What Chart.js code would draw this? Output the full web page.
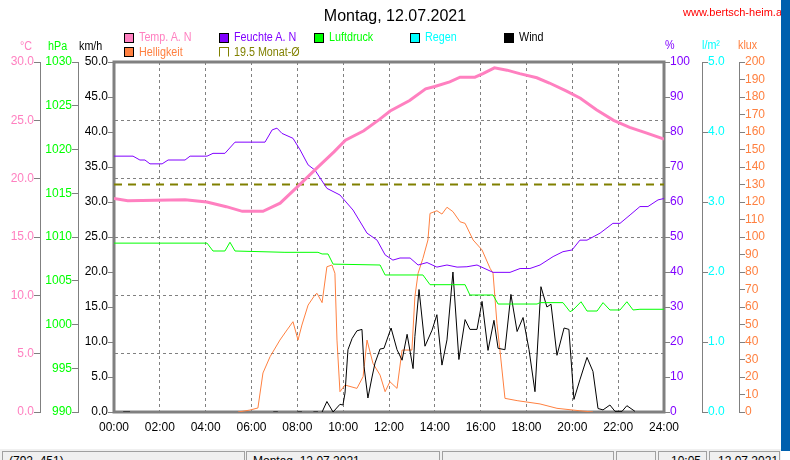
<!DOCTYPE html>
<html lang="de">
<head>
<meta charset="UTF-8">
<title>Montag, 12.07.2021</title>
<script src="https://cdn.jsdelivr.net/npm/chart.js"></script>
<style>
  body { margin:0; width:790px; height:460px; overflow:hidden; background:#fff; position:relative;
         font-family:"Liberation Sans", Arial, sans-serif; }
  #chart { position:absolute; left:0; top:0; }
  .abs { position:absolute; white-space:nowrap; }
  .n { font-size:12.5px; line-height:13px; }
  .n span { display:inline-block; transform:scaleX(0.86); transform-origin:left center; }
  #title { left:0; width:790px; text-align:center; top:8px; font-size:16px; line-height:16px; }
  #web { left:683px; top:7px; font-size:11px; line-height:11px; color:#ff0000; }
  .leg { display:flex; align-items:center; }
  .leg i { display:inline-block; width:10px; height:10px; border:1px solid #000; box-sizing:border-box; margin-right:5px; }
  #bluebar { left:781px; top:0; width:9px; height:451px; background:#0060ae; }
  #status { left:0; top:449px; width:781px; height:11px; background:#f0f0f0; }
  .panel { top:451px; height:20px; box-sizing:border-box; border:1px solid #a0a0a0; background:#f0f0f0;
           font-size:12px; line-height:18px; padding-left:6px; overflow:hidden; }
</style>
</head>
<body>
<canvas id="chart" width="790" height="460"></canvas>
<div id="title" class="abs">Montag, 12.07.2021</div>
<div id="web" class="abs">www.bertsch-heim.at</div>
<div id="legend"></div>
<div id="units"></div>
<div id="bluebar" class="abs"></div>
<div id="status" class="abs"></div>
<div class="abs panel" style="left:2px;width:243px">(792, 451)</div>
<div class="abs panel" style="left:246px;width:194px">Montag, 12.07.2021</div>
<div class="abs panel" style="left:442px;width:172px"></div>
<div class="abs panel" style="left:616px;width:40px"></div>
<div class="abs panel" style="left:658px;width:49px;padding-left:12px">10:05</div>
<div class="abs panel" style="left:709px;width:71px;padding-left:8px">12.07.2021</div>

<script>
// Temperatur (°C)
const tempHours  = [0, 0.6, 3.1, 4.05, 4.9, 5.6, 6.5, 7.25, 8.0, 8.85, 9.6, 10.1, 10.9, 11.6, 12.05, 12.9, 13.6, 14.0,
                    14.65, 15.1, 15.75, 16.1, 16.6, 17.15, 17.7, 18.45, 19.0, 19.75, 20.35, 21.05, 21.8, 22.5, 23.25, 24];
const tempValues = [18.3, 18.1, 18.2, 18.0, 17.6, 17.2, 17.2, 17.9, 19.3, 20.9, 22.3, 23.3, 24.1, 25.1, 25.8, 26.7, 27.7, 27.9,
                    28.3, 28.7, 28.7, 29.0, 29.5, 29.3, 29.0, 28.65, 28.2, 27.5, 26.9, 25.9, 25.0, 24.4, 23.9, 23.4];

// Feuchte (%)
const humHours  = [0, 0.83, 1.13, 1.35, 1.57, 2.1, 2.36, 3.1, 3.32, 4.06, 4.32, 4.84, 5.28, 6.59, 6.9, 7.11, 7.33, 7.81,
                   8.12, 8.47, 8.77, 9.29, 9.86, 10.43, 11.04, 11.48, 11.83, 12.17, 12.48, 12.92, 13.27, 13.66, 14.09,
                   14.53, 14.97, 15.4, 15.84, 16.54, 17.28, 17.72, 18.15, 18.59, 19.16, 19.59, 19.99, 20.33, 20.64,
                   21.21, 21.77, 22.08, 22.52, 22.95, 23.3, 23.74, 24];
const humValues = [73.1, 73.1, 72, 72, 70.9, 70.9, 72, 72, 73.1, 73.1, 73.9, 73.9, 77.1, 77.1, 80.6, 81.1, 79.6, 78.2,
                   74.9, 70.6, 69.1, 63.9, 62.0, 57.7, 51.1, 49.1, 44.9, 43.4, 44.0, 44.0, 42.0, 42.7, 41.4,
                   42.0, 41.4, 41.5, 42.0, 39.9, 39.9, 41.0, 41.0, 42.0, 44.4, 45.8, 46.3, 49.1, 49.1,
                   51.1, 53.9, 53.9, 56.3, 58.7, 58.7, 60.6, 61.0];

// Luftdruck (hPa)
const pressHours  = [0, 4.06, 4.32, 4.84, 5.06, 5.28, 7.46, 8.9, 9.08, 9.34, 9.56, 11.61, 11.83, 13.48, 13.79, 15.32,
                     15.53, 16.54, 16.76, 18.46, 18.59, 19.59, 19.9, 20.03, 20.38, 20.64, 21.08, 21.34, 21.64, 22.08,
                     22.38, 22.65, 22.95, 24];
const pressValues = [1009.3, 1009.3, 1008.4, 1008.4, 1009.4, 1008.4, 1008.25, 1008.25, 1008.06, 1008.06, 1006.9, 1006.8,
                     1005.66, 1005.66, 1004.55, 1004.55, 1003.37, 1003.37, 1002.34, 1002.34, 1002.5, 1002.5, 1001.46,
                     1001.66, 1002.6, 1001.54, 1001.54, 1002.5, 1001.66, 1001.66, 1002.6, 1001.66, 1001.74, 1001.74];

// Regen (l/m²) - kein Niederschlag
const rainHours  = [];
const rainValues = [];

// Wind (km/h), null = keine Daten
const windHours  = [0.4, 0.7, 0.8, 6.95, 7.15, 7.2, 8.0, 8.2, 8.3, 8.7, 8.9, 9.0,
                    9.08, 9.29, 9.56, 9.86, 9.99, 10.08, 10.21, 10.39, 10.6, 10.82, 10.91, 11.08, 11.26, 11.39, 11.61,
                    11.78, 12.09, 12.35, 12.57, 12.79, 13.05, 13.13, 13.31, 13.57, 13.88, 14.09, 14.31, 14.53, 14.79,
                    15.05, 15.32, 15.53, 15.84, 16.06, 16.32, 16.58, 16.76, 17.06, 17.32, 17.59, 17.85, 18.11, 18.37,
                    18.63, 18.89, 19.07, 19.33, 19.64, 19.85, 20.07, 20.33, 20.64, 20.9, 21.12, 21.34, 21.64, 21.86,
                    22.17, 22.38, 22.73];
const windValues = [0, 0, null, 0, 0, null, 0, 0, null, 0, 0, null,
                    0, 1.5, 0, 1.1, 1.0, 2.7, 8.9, 10.5, 11.6, 11.8, 6.5, 2.0, 5.0, 7.0, 9.0,
                    9.1, 12.0, 8.9, 7.4, 11.1, 6.2, 10.8, 17.5, 9.4, 11.7, 13.9, 6.7, 10.3, 20.0,
                    7.5, 13.2, 11.8, 11.8, 15.8, 8.8, 13.1, 9.1, 8.9, 16.8, 11.5, 13.5, 8.9, 2.9,
                    17.9, 15.0, 15.4, 8.1, 12.0, 11.8, 1.8, 4.6, 7.8, 5.8, 0.5, 0.3, 1.0, 0.1,
                    0.1, 0.9, 0.1];

// Helligkeit (klux)
const luxHours  = [5.41, 5.93, 6.28, 6.5, 6.81, 7.24, 7.55, 7.81, 8.03, 8.2, 8.47, 8.77, 8.86, 9.08, 9.29, 9.51, 9.64,
                   9.73, 9.86, 10.08, 10.6, 10.87, 11.04, 11.3, 11.61, 11.83, 12.04, 12.35, 12.57, 13.0, 13.13, 13.27,
                   13.48, 13.7, 13.79, 14.09, 14.31, 14.53, 14.79, 15.1, 15.32, 15.67, 16.06, 16.41, 16.54, 16.71,
                   16.84, 17.06, 17.59, 18.59, 19.33, 20.33, 20.9];
const luxValues = [0, 1.1, 2.3, 22.3, 31.6, 41.1, 46.9, 51.6, 41.1, 49.7, 61.1, 66.9, 67.8, 62.5, 83.0, 84.0, 79.3,
                   41.1, 11.6, 15.4, 13.5, 20.2, 41.1, 27.8, 21.1, 11.6, 17.3, 13.5, 35.4, 35.4, 65.9, 79.3,
                   87.8, 98.3, 113.5, 115, 113.1, 117, 114.5, 108.7, 107.8, 98.3, 92.6, 82.1, 79.3, 50.7,
                   35.4, 7.8, 6.5, 4.6, 2.1, 0.7, 0];

// Monatsmittel Temperatur
const monatHours  = [0, 24];
const monatValues = [19.5, 19.5];

const xTicks = [0, 2, 4, 6, 8, 10, 12, 14, 16, 18, 20, 22, 24];

const pink = '#ff80c0', purple = '#8000ff', green = '#00ff00', cyan = '#00ffff', orange = '#ff8040', olive = '#808000';
const gray = '#808080';

const pts = (hs, vs) => hs.map((h, i) => ({ x: h, y: vs[i] }));

Chart.defaults.font.family = '"Liberation Sans", Arial, sans-serif';
Chart.defaults.font.size = 12;

function yAxis(position, weight, width, min, max, step, color, digits, chartGrid) {
  return {
    type: 'linear', position: position, weight: weight, min: min, max: max,
    afterFit: s => { s.width = width; },
    ticks: { stepSize: step, color: color, padding: 0, autoSkip: false,
             callback: v => v.toFixed(digits) },
    grid: { drawOnChartArea: chartGrid, color: gray, tickColor: gray, tickLength: 6, lineWidth: 1 },
    border: { display: true, color: gray, width: 1, dash: chartGrid ? [3, 3] : [] }
  };
}

const scales = {
  x: {
    type: 'linear', min: 0, max: 24,
    afterBuildTicks: s => { s.ticks = xTicks.map(v => ({ value: v })); },
    afterFit: s => { s.height = 20; },
    ticks: { color: '#000', padding: 8, maxRotation: 0, autoSkip: false,
             callback: v => String(v).padStart(2, '0') + ':00' },
    grid: { color: gray, drawTicks: false, lineWidth: 1 },
    border: { display: false, dash: [3, 3] }
  },
  yT:  yAxis('left', 3, 40, 0, 30, 5, pink, 1, true),
  yP:  yAxis('left', 2, 38, 990, 1030, 5, green, 0, false),
  yW:  yAxis('left', 1, 36, 0, 50, 5, '#000', 1, false),
  yH:  yAxis('right', 1, 38, 0, 100, 10, purple, 0, false),
  yR:  yAxis('right', 2, 37, 0, 5, 1, cyan, 1, false),
  yL:  yAxis('right', 3, 30, 0, 200, 10, orange, 0, false)
};
scales.yW.border.display = false;
scales.yH.border.display = false;

const frame = {
  id: 'frame',
  beforeDatasetsDraw(chart) {
    const a = chart.chartArea, ctx = chart.ctx;
    ctx.save();
    ctx.strokeStyle = gray;
    ctx.lineWidth = 3;
    ctx.strokeRect(a.left, a.top, a.right - a.left, a.bottom - a.top);
    ctx.restore();
  }
};

const line = (label, data, color, axis, width, extra) => Object.assign({
  label: label, data: data, yAxisID: axis, borderColor: color, backgroundColor: color,
  borderWidth: width, pointRadius: 0, tension: 0, fill: false, spanGaps: false
}, extra || {});

const datasets = [
  line('Temp. A. N', pts(tempHours, tempValues), pink, 'yT', 3),
  line('Feuchte A. N', pts(humHours, humValues), purple, 'yH', 1),
  line('Luftdruck', pts(pressHours, pressValues), green, 'yP', 1),
  line('Regen', pts(rainHours, rainValues), cyan, 'yR', 1),
  line('Wind', pts(windHours, windValues), '#000000', 'yW', 1),
  line('Helligkeit', pts(luxHours, luxValues), orange, 'yL', 1),
  line('19.5 Monat-Ø', pts(monatHours, monatValues), olive, 'yT', 2, { borderDash: [8, 6] })
];

new Chart(document.getElementById('chart'), {
  type: 'line',
  data: { datasets: datasets },
  options: {
    responsive: false, animation: false, devicePixelRatio: 1,
    layout: { padding: { left: 0, right: 21, top: 62, bottom: 28 } },
    plugins: { legend: { display: false }, tooltip: { enabled: false } },
    scales: scales
  },
  plugins: [frame]
});

// Legende wie im Original: zwei Zeilen, feste Spalten
const legendSlots = [[124, 31], [219, 31], [314, 31], [410, 31], [504, 31], [124, 45.5], [219, 45.5]];
const legendBox = document.getElementById('legend');
datasets.forEach((ds, k) => {
  const el = document.createElement('div');
  el.className = 'abs n leg';
  el.style.left = legendSlots[k][0] + 'px';
  el.style.top = legendSlots[k][1] + 'px';
  el.style.color = ds.borderColor;
  const box = document.createElement('i');
  if (ds.borderDash) { box.style.borderColor = olive; box.style.borderBottomColor = 'transparent'; }
  else box.style.background = ds.borderColor;
  const txt = document.createElement('span');
  txt.textContent = ds.label;
  el.appendChild(box);
  el.appendChild(txt);
  legendBox.appendChild(el);
});

// Einheiten über den Achsen
const units = [['°C', 20, pink], ['hPa', 48, green], ['km/h', 79, '#000'],
               ['%', 665, purple], ['l/m²', 702, cyan], ['klux', 738, orange]];
const unitBox = document.getElementById('units');
units.forEach(u => {
  const el = document.createElement('div');
  el.className = 'abs n';
  el.style.left = u[1] + 'px';
  el.style.top = (u[1] > 600 ? 39 : 40) + 'px';
  el.style.color = u[2];
  const txt = document.createElement('span');
  txt.textContent = u[0];
  el.appendChild(txt);
  unitBox.appendChild(el);
});
</script>
</body>
</html>
